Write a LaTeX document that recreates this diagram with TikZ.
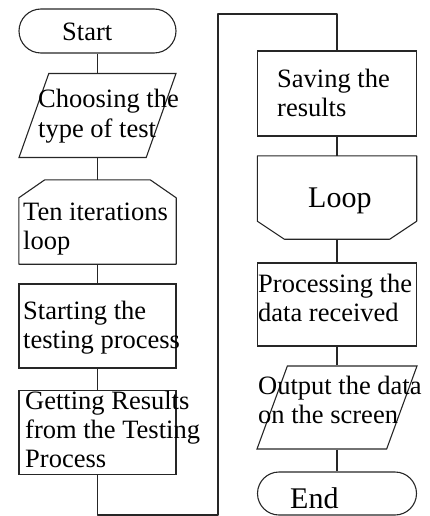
\documentclass[tikz,border=0pt]{standalone}
\usepackage{fontspec}
\setmainfont{Liberation Serif}
\usetikzlibrary{shapes.misc,shapes.geometric}

\tikzset{
	flow/.style={draw=black!85, line width=1.1pt, inner sep=0pt},
	termbox/.style={flow, rounded rectangle, minimum width=157pt, minimum height=44pt},
	procbox/.style={flow, rectangle, minimum width=157pt, minimum height=84pt},
	iobox/.style={flow, inner sep=1pt, trapezium, trapezium left angle=73, trapezium right angle=107,
		trapezium stretches, minimum width=157pt, minimum height=84pt},
	limbox/.style={inner sep=0pt, rectangle, minimum width=157pt, minimum height=84pt},
	txt/.style={font=\fontsize{26.5}{29}\selectfont, align=left, inner sep=0pt},
	bigtxt/.style={font=\fontsize{30}{34}\selectfont, inner sep=0pt},
	link/.style={draw=black!85, line width=1.1pt, line join=round}
}

\begin{document}
\begin{tikzpicture}[x=1pt,y=-1pt]
	\useasboundingbox (0,0) rectangle (430,516);

	% left column
	\node[termbox] (start) at (97.5,31) {};
	\node[iobox] (choose) at (97.5,115.5) {};
	\node[limbox] (ten) at (97.5,222) {};
	\draw[link] ([xshift=26pt]ten.north west) -- ([xshift=-26pt]ten.north east)
		-- ([yshift=-18pt]ten.north east) -- (ten.south east) -- (ten.south west)
		-- ([yshift=-18pt]ten.north west) -- cycle;
	\node[procbox] (begin) at (97.5,326) {};
	\node[procbox] (get) at (97.5,432.5) {};

	% right column
	\node[procbox, minimum width=159pt, minimum height=85pt] (save) at (337,93.5) {};
	\node[limbox, minimum width=159pt, minimum height=83pt] (loopend) at (337,197.5) {};
	\draw[link] (loopend.north west) -- (loopend.north east)
		-- ([yshift=18pt]loopend.south east) -- ([xshift=-27pt]loopend.south east)
		-- ([xshift=27pt]loopend.south west) -- ([yshift=18pt]loopend.south west) -- cycle;
	\node[procbox, minimum width=159pt, minimum height=83pt] (work) at (337,304.5) {};
	\node[iobox, minimum width=160pt, minimum height=83pt] (show) at (337,407.5) {};
	\node[termbox, minimum width=159pt, minimum height=43pt] (end) at (337,493.5) {};

	% texts
	\node[txt, anchor=base west] (start-t) at (62,41) {Start};
	\node[txt, anchor=base west] (choose-t) at (38,137) {Choosing the\\type of test};
	\node[txt, anchor=base west] (ten-t) at (23,249) {Ten iterations\\loop};
	\node[txt, anchor=base west] (begin-t) at (23,348) {Starting the\\testing process};
	\node[txt, anchor=base west] (get-t) at (25,467) {Getting Results\\from the Testing\\Process};
	\node[txt, anchor=base west] (save-t) at (277,117) {Saving the\\results};
	\node[bigtxt, anchor=base west] (loopend-t) at (308,207) {Loop};
	\node[txt, anchor=base west] (work-t) at (258,321) {Processing the\\data received};
	\node[txt, anchor=base west] (show-t) at (258,423) {Output the data\\on the screen};
	\node[bigtxt, anchor=base west] (end-t) at (290,508) {End};

	% connectors
	\draw[link] (start) -- (choose);
	\draw[link] (choose) -- (ten);
	\draw[link] (ten) -- (begin);
	\draw[link] (begin) -- (get);
	\coordinate (low) at (218,515);
	\coordinate (high) at (218,14);
	\draw[link] (get.south) |- (low) -- (high) -| (save.north);
	\draw[link] (save) -- (loopend);
	\draw[link] (loopend) -- (work);
	\draw[link] (work) -- (show);
	\draw[link] (show) -- (end);
\end{tikzpicture}
\end{document}
